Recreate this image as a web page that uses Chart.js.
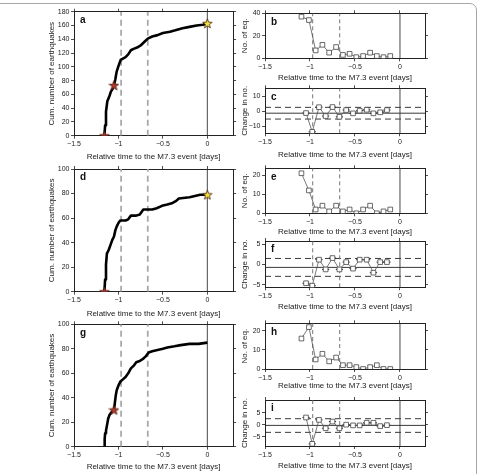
<!DOCTYPE html>
<html lang="en">
  <head>
    <meta charset="UTF-8" />
    <title>Seismicity before the M7.3 event</title>
    <script src="https://cdn.jsdelivr.net/npm/chart.js"></script>
    <style>
      html, body { margin: 0; padding: 0; background: #fff; }
      body { width: 479px; height: 474px; position: relative; overflow: hidden; }
      .frame { position: absolute; left: -20px; top: 3px; width: 495px; height: 520px;
               border: 1px solid #a6a6a6; border-radius: 7px; }
      canvas { position: absolute; }
    </style>
  </head>
  <body>
    <div class="frame"></div>
    <canvas id="pa"></canvas>
    <canvas id="pd"></canvas>
    <canvas id="pg"></canvas>
    <canvas id="pb"></canvas>
    <canvas id="pc"></canvas>
    <canvas id="pe"></canvas>
    <canvas id="pf"></canvas>
    <canvas id="ph"></canvas>
    <canvas id="pi"></canvas>
    <script>
      // ---- data ----
      const xTicks = [-1.5, -1, -0.5, 0];
      const markerTimes = [-0.97, -0.67]; // dashed vertical lines

      // cumulative counts (a, d, g)
      const cumTimeA = [-1.158, -1.15, -1.14, -1.125, -1.10, -1.085, -1.065, -1.05, -1.035, -1.02, -1.0, -0.975, -0.95, -0.92, -0.89, -0.86, -0.83, -0.79, -0.75, -0.71, -0.67, -0.62, -0.56, -0.5, -0.42, -0.36, -0.28, -0.2, -0.12, -0.05, 0];
      const cumCountA = [0, 15, 35, 50, 58, 64, 68, 73, 82, 93, 101, 110, 112, 114, 118, 124, 126, 128, 131, 136, 141, 144, 146, 149, 151, 153, 156, 158, 160, 161, 163];
      const cumTimeD = [-1.158, -1.15, -1.14, -1.13, -1.11, -1.09, -1.07, -1.05, -1.035, -1.02, -1.0, -0.98, -0.92, -0.89, -0.86, -0.80, -0.76, -0.72, -0.62, -0.57, -0.51, -0.45, -0.40, -0.35, -0.32, -0.2, -0.14, -0.08, 0];
      const cumCountD = [0, 10, 22, 31, 34, 38, 42, 45, 50, 53, 56, 58, 58, 59, 62, 62, 63, 67, 67, 68, 70, 71, 72, 74, 76, 77, 78, 79, 79];
      const cumTimeG = [-1.158, -1.155, -1.15, -1.14, -1.13, -1.115, -1.1, -1.08, -1.05, -1.04, -1.03, -1.02, -1.0, -0.98, -0.95, -0.92, -0.89, -0.86, -0.83, -0.8, -0.76, -0.72, -0.69, -0.66, -0.62, -0.56, -0.5, -0.45, -0.37, -0.3, -0.2, -0.1, 0];
      const cumCountG = [0, 6, 11, 13, 17, 23, 26, 28, 30, 36, 42, 46, 50, 53, 55, 57, 60, 64, 66, 69, 70, 72, 74, 77, 78, 79, 80, 81, 82, 83, 84, 84, 85];

      const redStarsA = [{ x: -1.158, y: 0 }, { x: -1.05, y: 73 }];
      const yellowStarA = [{ x: 0, y: 163 }];
      const redStarsD = [{ x: -1.158, y: 0 }];
      const yellowStarD = [{ x: 0, y: 79 }];
      const redStarsG = [{ x: -1.05, y: 30 }];

      // number of earthquakes per bin (b, e, h)
      const binTimes = [-1.095, -1.012, -0.937, -0.862, -0.787, -0.71, -0.634, -0.56, -0.485, -0.41, -0.332, -0.257, -0.183, -0.108];
      const countB = [37, 34, 7, 12, 5, 10, 3, 4, 1, 2, 5, 2, 1, 2];
      const countE = [21, 12, 2, 4, 1, 4, 1, 2, 0, 2, 4, 0, 1, 2];
      const countH = [16, 22, 5, 8, 4, 6, 2, 2, 1, 0, 1, 2, 0, 0];

      // change in number (c, f, i)
      const changeTimes = [-1.044, -0.975, -0.9, -0.826, -0.75, -0.673, -0.598, -0.522, -0.448, -0.37, -0.295, -0.22, -0.145];
      const changeC = [-1, -13.5, 2.9, -3, 3, -3.5, 1, -1.2, 0.6, 1.2, -1.2, -0.5, 1];
      const changeF = [-4.6, -5.2, 1.2, -1.2, 1.6, -1.2, 0.6, -1.0, 1.2, 1.2, -2.0, 0.6, 0.6];
      const changeI = [3, -8, 2, -1.5, 1.3, -1.5, 0, -0.3, -0.3, 0.8, 0.8, -0.6, -0.2];
      const barHalf = 0.04;
      // mean, mean+sd, mean-sd
      const levelsC = [-1.1, 2.8, -5.0];
      const levelsF = [-0.7, 1.5, -2.9];
      const levelsI = [-0.3, 2.5, -3.2];

      const FONT = '"Liberation Sans", Arial, sans-serif';
      const INK = '#222';
      const X_TITLE = 'Relative time to the M7.3 event [days]';

      function fmt(v) {
        return v < 0 ? '\u2212' + Math.abs(v) : String(v);
      }

      function starImage(fill) {
        const c = document.createElement('canvas');
        c.width = 11; c.height = 11;
        const g = c.getContext('2d');
        g.beginPath();
        for (let k = 0; k < 10; k++) {
          const r = k % 2 ? 2.1 : 5;
          const a = -Math.PI / 2 + k * Math.PI / 5;
          g.lineTo(5.5 + r * Math.cos(a), 5.9 + r * Math.sin(a));
        }
        g.closePath();
        g.fillStyle = fill;
        g.fill();
        g.lineWidth = 0.8;
        g.strokeStyle = '#4a1c10';
        g.stroke();
        return c;
      }
      const RED_STAR = starImage('#b5372a');
      const YELLOW_STAR = starImage('#f2e43c');

      const panelLabel = {
        id: 'panelLabel',
        afterDraw(chart, args, o) {
          const { ctx, chartArea } = chart;
          ctx.save();
          ctx.font = 'bold 10px ' + FONT;
          ctx.fillStyle = '#111';
          ctx.textBaseline = 'middle';
          ctx.fillText(o.text, chartArea.left + 6, chartArea.top + 8.5);
          ctx.restore();
        }
      };

      function toPoints(xs, ys) {
        return xs.map((x, i) => ({ x: x, y: ys[i] }));
      }
      function vline(x, p, color, width, dash) {
        return { data: [{ x: x, y: p.yMin }, { x: x, y: p.yMax }], borderColor: color,
                 borderWidth: width, borderDash: dash || [], pointRadius: 0, order: 5 };
      }
      function hline(y, p, color, width, dash) {
        return { data: [{ x: p.xMin, y: y }, { x: p.xMax, y: y }], borderColor: color,
                 borderWidth: width, borderDash: dash || [], pointRadius: 0, order: 5 };
      }

      function buildPanel(p) {
        const cv = document.getElementById(p.id);
        const [bl, bt, br, bb] = p.box;
        const [pl, pt, pr, pb] = p.plot;
        cv.width = br - bl;
        cv.height = bb - bt;
        cv.style.left = bl + 'px';
        cv.style.top = bt + 'px';
        const lh = 8 * 1.2;
        const tickFont = { family: FONT, size: 7 };
        const titleFont = { family: FONT, size: 8 };
        const grid = { drawOnChartArea: false, tickLength: 3, color: INK, lineWidth: 0.8 };
        const border = { color: INK, width: 1 };
        const setX = s => { s.ticks = xTicks.map(v => ({ value: v })); };
        const setY = s => { s.ticks = p.yTicks.map(v => ({ value: v })); };

        new Chart(cv.getContext('2d'), {
          type: 'line',
          data: { datasets: p.datasets },
          options: {
            responsive: false,
            animation: false,
            devicePixelRatio: 1,
            layout: { padding: 0 },
            elements: { line: { tension: 0 } },
            plugins: { legend: { display: false }, tooltip: { enabled: false }, panelLabel: { text: p.label } },
            scales: {
              x: {
                type: 'linear', position: 'bottom', min: p.xMin, max: p.xMax,
                afterBuildTicks: setX,
                afterFit: s => { s.height = bb - pb; },
                ticks: { font: tickFont, color: INK, padding: 1.5, maxRotation: 0, callback: fmt },
                grid: grid, border: border,
                title: { display: true, text: X_TITLE, font: titleFont, color: INK,
                         padding: { top: 0, bottom: bb - p.xTitleY - lh / 2 } }
              },
              x2: {
                type: 'linear', position: 'top', min: p.xMin, max: p.xMax,
                afterBuildTicks: setX,
                afterFit: s => { s.height = pt - bt; },
                ticks: { display: false },
                grid: grid, border: border
              },
              y: {
                type: 'linear', position: 'left', min: p.yMin, max: p.yMax,
                afterBuildTicks: setY,
                afterFit: s => { s.width = pl - bl; },
                ticks: { font: tickFont, color: INK, padding: 1.5, callback: fmt },
                grid: grid, border: border,
                title: { display: true, text: p.yTitle, font: titleFont, color: INK,
                         padding: { top: p.yTitleX - bl - lh / 2, bottom: 0 } }
              },
              y2: {
                type: 'linear', position: 'right', min: p.yMin, max: p.yMax,
                afterBuildTicks: setY,
                afterFit: s => { s.width = br - pr; },
                ticks: { display: false },
                grid: grid, border: border
              }
            }
          },
          plugins: [panelLabel]
        });
      }

      function cumPanel(p, times, counts, red, yellow) {
        const ds = [];
        markerTimes.forEach(t => ds.push(vline(t, p, '#a9a9a9', 1.8, [6, 4])));
        ds.push(vline(0, p, '#333', 0.9));
        ds.push({ data: toPoints(times, counts), borderColor: '#000', borderWidth: 2.6,
                  pointRadius: 0, borderJoinStyle: 'round', order: 2 });
        ds.push({ data: red, showLine: false, pointStyle: RED_STAR, pointRadius: 5, order: 0 });
        if (yellow) ds.push({ data: yellow, showLine: false, pointStyle: YELLOW_STAR, pointRadius: 5, order: 0 });
        p.datasets = ds;
        p.yTitle = 'Cum. number of earthquakes';
        p.yTitleX = 52;
        p.xMin = -1.5; p.xMax = 0.29;
        buildPanel(p);
      }

      function squares(times, vals) {
        return { data: toPoints(times, vals), borderColor: '#555', borderWidth: 0.8,
                 pointStyle: 'rect', pointRadius: 3.3, pointBackgroundColor: '#fff',
                 pointBorderColor: '#444', pointBorderWidth: 0.8, order: 0 };
      }

      function countPanel(p, counts) {
        p.xMin = -1.5; p.xMax = 0.278;
        const ds = [];
        markerTimes.forEach(t => ds.push(vline(t, p, '#666', 0.9, [4, 3])));
        ds.push(vline(0, p, '#333', 0.9));
        ds.push(squares(binTimes, counts));
        p.datasets = ds;
        p.yTitle = 'No. of eq.';
        p.yTitleX = 245;
        buildPanel(p);
      }

      function changePanel(p, vals, levels) {
        p.xMin = -1.5; p.xMax = 0.278;
        const ds = [];
        markerTimes.forEach(t => ds.push(vline(t, p, '#666', 0.9, [4, 3])));
        ds.push(vline(0, p, '#333', 0.9));
        ds.push(hline(levels[0], p, '#222', 0.9));
        ds.push(hline(levels[1], p, '#222', 0.9, [6, 4]));
        ds.push(hline(levels[2], p, '#222', 0.9, [6, 4]));
        const bars = [];
        changeTimes.forEach((t, i) => {
          bars.push({ x: t - barHalf, y: vals[i] }, { x: t + barHalf, y: vals[i] }, { x: t, y: null });
        });
        ds.push({ data: bars, borderColor: '#1a1a1a', borderWidth: 0.9, pointRadius: 0, spanGaps: false, order: 1 });
        ds.push(squares(changeTimes, vals));
        p.datasets = ds;
        p.yTitle = 'Change in no.';
        p.yTitleX = 245;
        buildPanel(p);
      }

      cumPanel({ id: 'pa', label: 'a', box: [0, 0, 240, 164], plot: [74, 11.7, 233.1, 135.7],
                 yMin: 0, yMax: 180, yTicks: [0, 20, 40, 60, 80, 100, 120, 140, 160, 180], xTitleY: 157 },
               cumTimeA, cumCountA, redStarsA, yellowStarA);
      cumPanel({ id: 'pd', label: 'd', box: [0, 160, 240, 322], plot: [74, 169, 233.1, 291.7],
                 yMin: 0, yMax: 100, yTicks: [0, 20, 40, 60, 80, 100], xTitleY: 314 },
               cumTimeD, cumCountD, redStarsD, yellowStarD);
      cumPanel({ id: 'pg', label: 'g', box: [0, 316, 240, 474], plot: [74, 324.3, 233.1, 446.7],
                 yMin: 0, yMax: 100, yTicks: [0, 20, 40, 60, 80, 100], xTitleY: 466.7 },
               cumTimeG, cumCountG, redStarsG, null);

      countPanel({ id: 'pb', label: 'b', box: [240, 0, 479, 84], plot: [265, 13.3, 425, 58.3],
                   yMin: 0, yMax: 40, yTicks: [0, 20, 40], xTitleY: 77.3 }, countB);
      changePanel({ id: 'pc', label: 'c', box: [240, 80, 479, 162], plot: [265, 88.3, 425, 133.3],
                    yMin: -14.5, yMax: 15.5, yTicks: [-10, 0, 10], xTitleY: 155 }, changeC, levelsC);
      countPanel({ id: 'pe', label: 'e', box: [240, 160, 479, 238], plot: [265, 168.3, 425, 213.3],
                   yMin: 0, yMax: 23.6, yTicks: [0, 10, 20], xTitleY: 231.7 }, countE);
      changePanel({ id: 'pf', label: 'f', box: [240, 233, 479, 313], plot: [265, 241, 425, 287.3],
                    yMin: -5.6, yMax: 5.8, yTicks: [-5, 0, 5], xTitleY: 306.7 }, changeF, levelsF);
      countPanel({ id: 'ph', label: 'h', box: [240, 315, 479, 393], plot: [265, 323.3, 425, 369],
                   yMin: 0, yMax: 24, yTicks: [0, 10, 20], xTitleY: 386 }, countH);
      changePanel({ id: 'pi', label: 'i', box: [240, 392, 479, 474], plot: [265, 400, 425, 446],
                    yMin: -8.9, yMax: 10.3, yTicks: [-5, 0, 5], xTitleY: 466 }, changeI, levelsI);
    </script>
  </body>
</html>
